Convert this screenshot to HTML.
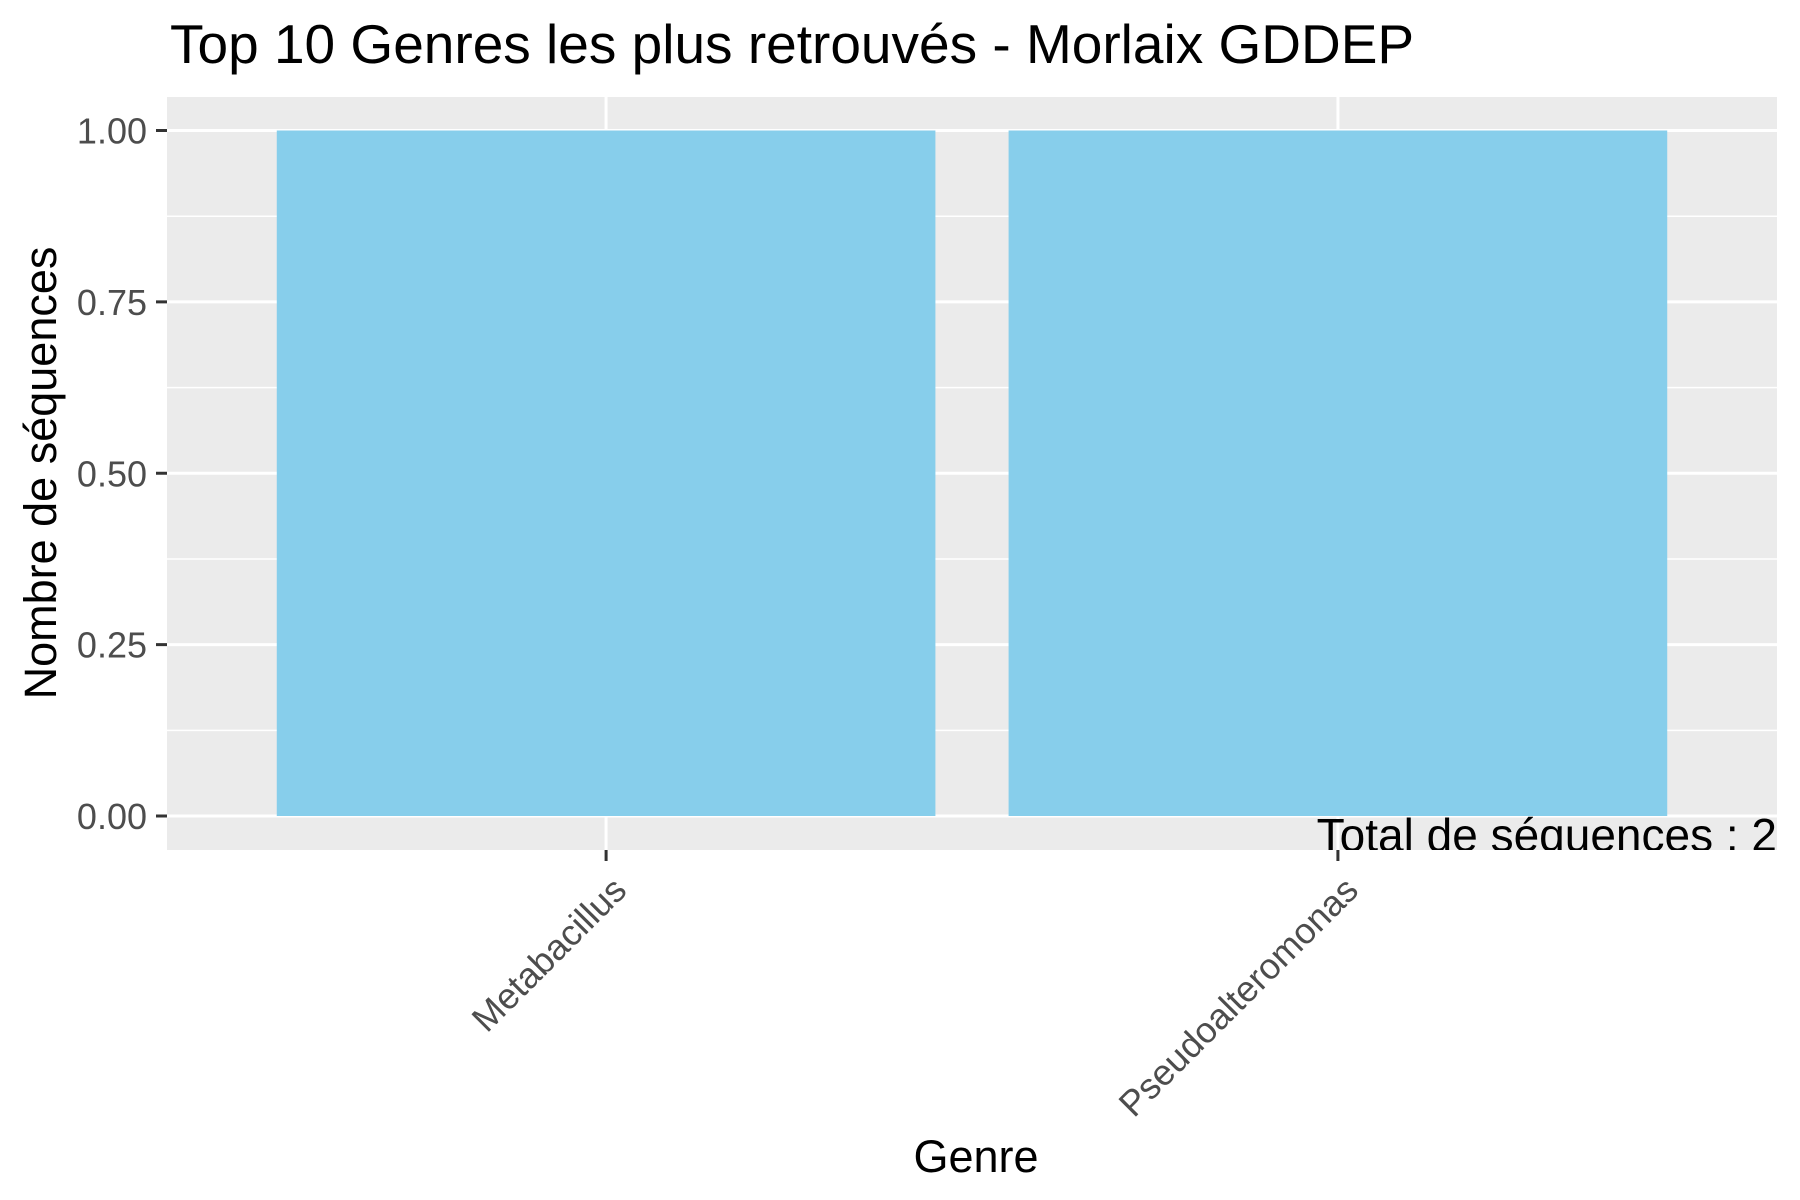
<!DOCTYPE html>
<html><head><meta charset="utf-8"><style>
html,body{margin:0;padding:0;background:#fff}
svg{display:block;font-family:"Liberation Sans",Arial,sans-serif}
</style></head><body>
<svg id="chart" width="1800" height="1200" viewBox="0 0 1800 1200" xmlns="http://www.w3.org/2000/svg">
<defs><clipPath id="pc"><rect x="167" y="97" width="1610" height="753"/></clipPath></defs>
<text x="170" y="63" font-size="55" fill="#000">Top 10 Genres les plus retrouvés - Morlaix GDDEP</text>
<rect x="167" y="97" width="1610" height="753" fill="#ebebeb"/>
<g id="grid"></g>
<g id="bars"></g>
<g clip-path="url(#pc)"><text x="1777" y="851" font-size="46" text-anchor="end" fill="#000">Total de séquences : 2</text></g>
<g id="axes"></g>
<text x="976" y="1172" font-size="45" text-anchor="middle" fill="#000">Genre</text>
<text transform="translate(56,473) rotate(-90)" font-size="45" text-anchor="middle" fill="#000">Nombre de séquences</text>
</svg>
<script>
const categories = ["Metabacillus", "Pseudoalteromonas"];
const counts = [1, 1];
const yTicks = [0, 0.25, 0.5, 0.75, 1];
const yTickLabels = ["0.00", "0.25", "0.50", "0.75", "1.00"];

const NS = "http://www.w3.org/2000/svg";
const y = v => 816 - v * 685.5;
const unit = 1610 / (categories.length + 0.2);
const x = i => 167 + (i + 0.6) * unit;
const halfW = 0.45 * unit;
function mk(tag, attrs, parent){const e=document.createElementNS(NS,tag);for(const k in attrs)e.setAttribute(k,attrs[k]);parent.appendChild(e);return e;}
const grid=document.getElementById('grid'), bars=document.getElementById('bars'), axes=document.getElementById('axes');
for(let i=0;i<yTicks.length-1;i++){
  const m=(yTicks[i]+yTicks[i+1])/2;
  const l=mk('line',{x1:167,x2:1777,y1:y(m),y2:y(m),stroke:'#fff','stroke-width':1.5},grid);
  
  
}
yTicks.forEach((t,i)=>{
  const l=mk('line',{x1:167,x2:1777,y1:y(t),y2:y(t),stroke:'#fff','stroke-width':3},grid);
  
  
  const tk=mk('line',{x1:156,x2:167,y1:y(t),y2:y(t),stroke:'#333','stroke-width':3},axes);
  
  
  const tx=mk('text',{x:147,y:y(t)+13,'font-size':36,'text-anchor':'end',fill:'#4d4d4d'},axes);
  tx.textContent=yTickLabels[i];
  
  
});
categories.forEach((c,i)=>{
  const g=mk('line',{x1:x(i),x2:x(i),y1:97,y2:850,stroke:'#fff','stroke-width':3},grid);
  
  
  const r=mk('rect',{x:x(i)-halfW,y:y(counts[i]),width:halfW*2,height:y(0)-y(counts[i]),fill:'#87ceeb'},bars);
  
  
  const tk=mk('line',{x1:x(i),x2:x(i),y1:850,y2:861,stroke:'#333','stroke-width':3},axes);
  
  
  const tx=mk('text',{transform:`translate(${x(i)+4},874) rotate(-45)`,'font-size':36,'text-anchor':'end',dy:'0.72em',fill:'#4d4d4d'},axes);
  tx.textContent=c;
  
  
});
</script>
</body></html>
